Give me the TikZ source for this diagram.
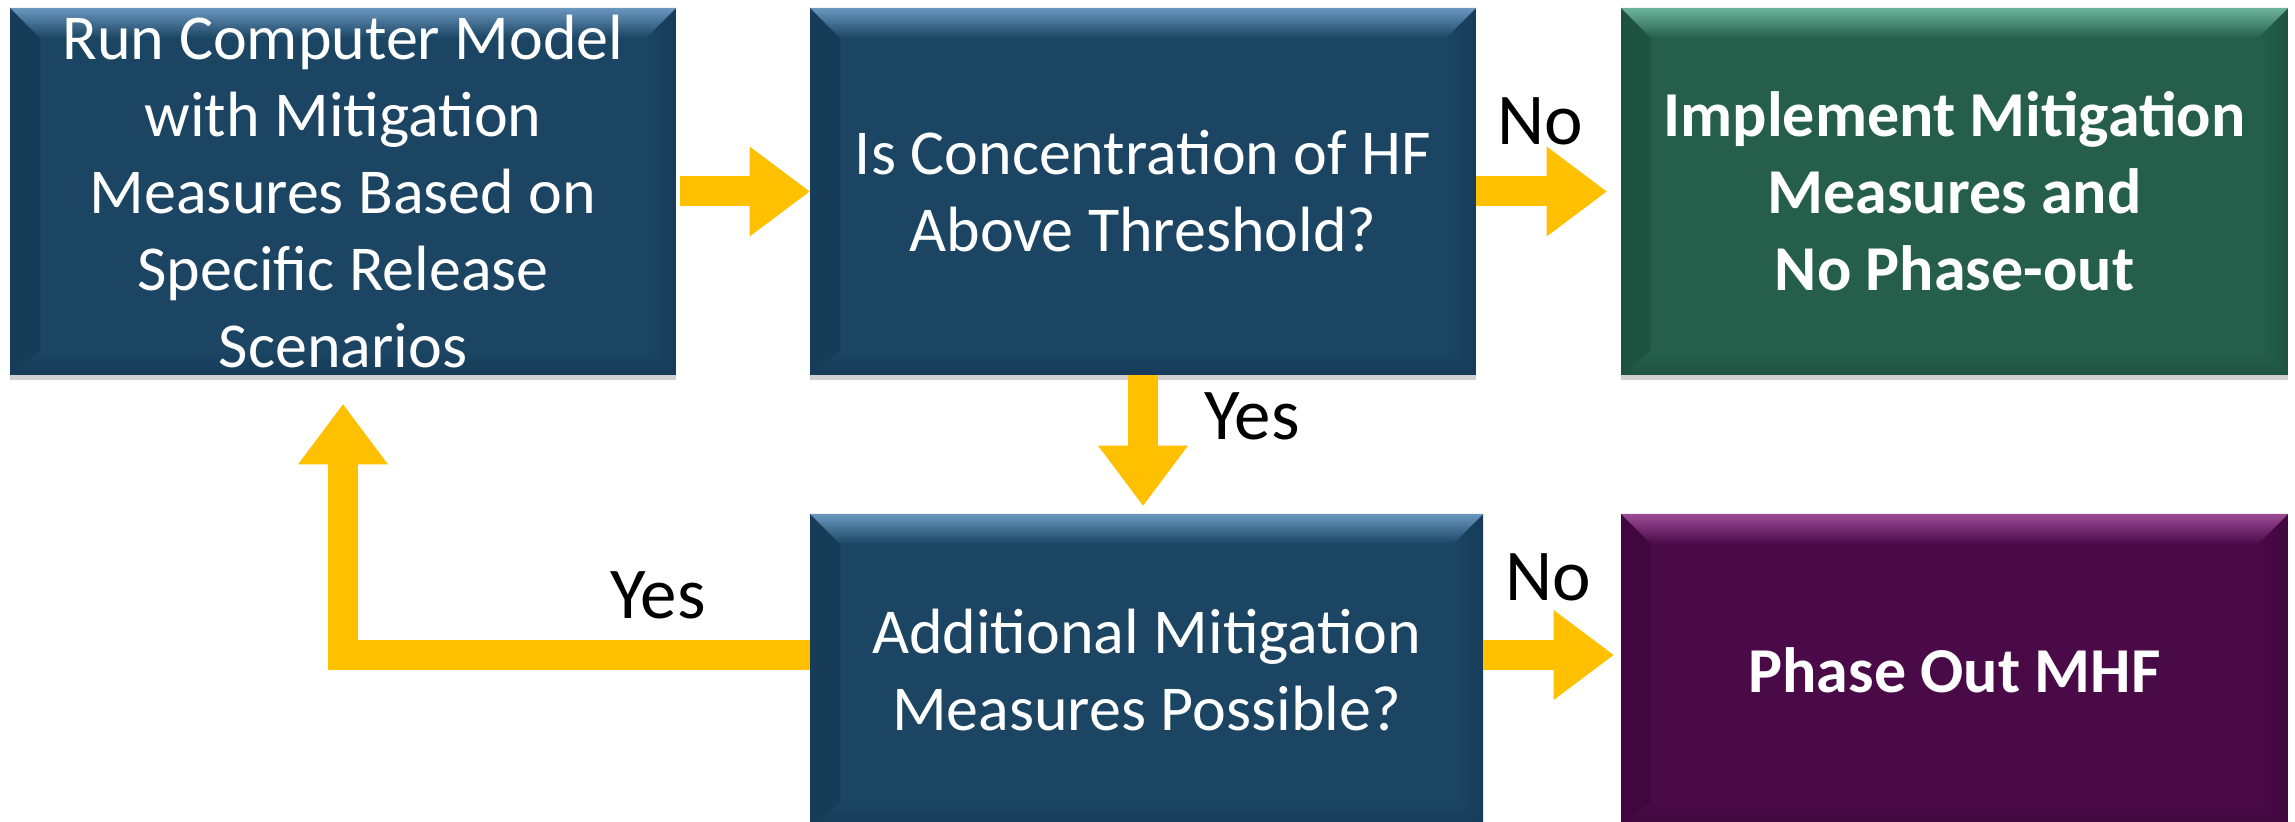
\documentclass[tikz,border=0pt]{standalone}
\usepackage{fontspec}
\setmainfont{Carlito}
\usetikzlibrary{arrows.meta,shadows,calc}
\definecolor{bluebase}{HTML}{1B4563}
\definecolor{bluelight}{HTML}{6A97BF}
\definecolor{bluedark}{HTML}{163C59}
\definecolor{greenbase}{HTML}{255F4C}
\definecolor{greenlight}{HTML}{6DB39B}
\definecolor{greendark}{HTML}{1F5341}
\definecolor{purplebase}{HTML}{4A0A48}
\definecolor{purplelight}{HTML}{9C4B95}
\definecolor{purpledark}{HTML}{40073E}
\definecolor{arrowyellow}{HTML}{FFC000}
\tikzset{
  procbox/.style={rectangle, inner sep=0pt, text=white, align=center,
    font=\fontsize{32}{38.5}\selectfont,
    drop shadow={shadow xshift=0pt, shadow yshift=-2.5pt, opacity=0.3, fill=black!60}},
  bevelbox/.style n args={3}{fill=#1, path picture={
    \def\bb{path picture bounding box}
    \shade[left color=#3, right color=#1] (\bb.north west) -- ([shift={(15pt,-15pt)}]\bb.north west) -- ([shift={(15pt,12pt)}]\bb.south west) -- (\bb.south west) -- cycle;
    \shade[right color=#3, left color=#1] (\bb.north east) -- ([shift={(-15pt,-15pt)}]\bb.north east) -- ([shift={(-15pt,12pt)}]\bb.south east) -- (\bb.south east) -- cycle;
    \shade[bottom color=#3, top color=#1] (\bb.south west) -- ([shift={(15pt,12pt)}]\bb.south west) -- ([shift={(-15pt,12pt)}]\bb.south east) -- (\bb.south east) -- cycle;
    \shade[top color=#2, bottom color=#1] (\bb.north west) -- (\bb.north east) -- ([shift={(-15pt,-15pt)}]\bb.north east) -- ([shift={(15pt,-15pt)}]\bb.north west) -- cycle;
  }},
  yarrow/.style={draw=arrowyellow, line width=15pt, line join=miter, line cap=butt,
    -{Triangle[width=45pt,length=30pt,line width=0pt]}},
  lbl/.style={font=\fontsize{36.5}{44}\selectfont, anchor=base, inner sep=0pt, text=black}
}
\begin{document}
\begin{tikzpicture}[x=0.5pt,y=-0.5pt]
\useasboundingbox[fill=white] (0,0) rectangle (2295,822);

\node[procbox, bevelbox={bluebase}{bluelight}{bluedark}, minimum width=333pt, minimum height=183.5pt] (b1) at (343,191.5)
  {Run Computer Model\\with Mitigation\\Measures Based on\\Specific Release\\Scenarios};
\node[procbox, bevelbox={bluebase}{bluelight}{bluedark}, minimum width=333pt, minimum height=183.5pt] (b2) at (1143,191.5)
  {Is Concentration of HF\\Above Threshold?};
\node[procbox, bevelbox={greenbase}{greenlight}{greendark}, minimum width=333.5pt, minimum height=183.5pt, font=\fontsize{32}{38.5}\selectfont\bfseries] (b3) at (1954.5,191.5)
  {Implement Mitigation\\Measures and\\No Phase-out};
\node[procbox, bevelbox={bluebase}{bluelight}{bluedark}, minimum width=336.5pt, minimum height=156pt] (b4) at (1146.5,670)
  {Additional Mitigation\\Measures Possible?};
\node[procbox, bevelbox={purplebase}{purplelight}{purpledark}, minimum width=333.5pt, minimum height=156pt, font=\fontsize{32}{38.5}\selectfont\bfseries] (b5) at (1954.5,670)
  {Phase Out MHF};

\draw[yarrow] ([xshift=2pt]b1.east) -- (b2.west);
\draw[yarrow] (b2.east) -- ([xshift=-7pt]b3.west);
\draw[yarrow] (b2.south) -- ($(b2.south |- b4.north)+(0,-8)$);
\draw[yarrow] ([yshift=7.5pt]b4.east) -- ([xshift=-3.5pt,yshift=7.5pt]b5.west);
\draw[yarrow] ([yshift=7.5pt]b4.west) -| ([yshift=-14.5pt]b1.south);

\node[lbl] (no1) at (1540,145) {No};
\node[lbl] (yes1) at (1252,440) {Yes};
\node[lbl] (no2) at (1548,601) {No};
\node[lbl] (yes2) at (658,618) {Yes};
\end{tikzpicture}
\end{document}
